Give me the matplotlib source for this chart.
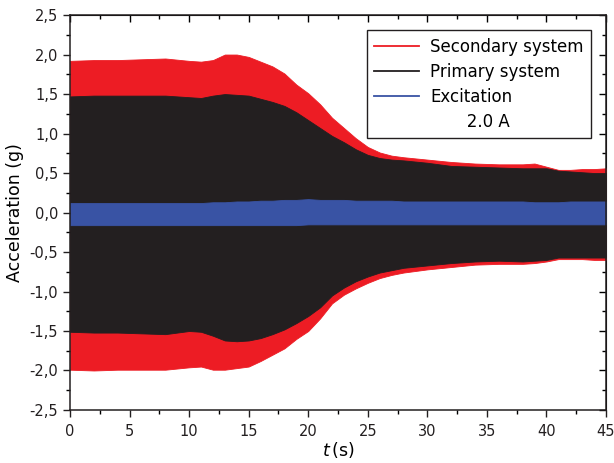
import numpy as np
import matplotlib
matplotlib.use('Agg')
import matplotlib.pyplot as plt
from matplotlib.lines import Line2D
from matplotlib.ticker import MultipleLocator, FuncFormatter

# envelope of the acceleration signals
t = [0, 2, 4, 6, 8, 10, 11, 12, 13, 14, 15, 16, 17, 18, 19, 20, 21, 22, 23, 24,
     25, 26, 27, 28, 30, 32, 34, 36, 38, 39, 40, 41, 42, 43, 44, 45]

sec_hi = [1.92, 1.93, 1.93, 1.94, 1.95, 1.92, 1.91, 1.93, 2.00, 2.00, 1.97, 1.91, 1.85, 1.76, 1.62, 1.51, 1.37, 1.20, 1.07, 0.94,
          0.83, 0.76, 0.72, 0.70, 0.67, 0.64, 0.62, 0.61, 0.61, 0.62, 0.58, 0.54, 0.54, 0.55, 0.55, 0.56]
sec_lo = [-1.99, -2.00, -1.99, -1.99, -1.99, -1.96, -1.95, -1.99, -1.99, -1.97, -1.95, -1.88, -1.80, -1.72, -1.60, -1.50, -1.34, -1.15, -1.04, -0.96,
          -0.89, -0.83, -0.79, -0.76, -0.72, -0.69, -0.66, -0.65, -0.65, -0.64, -0.62, -0.59, -0.59, -0.59, -0.60, -0.60]

pri_hi = [1.47, 1.48, 1.48, 1.48, 1.48, 1.46, 1.45, 1.48, 1.50, 1.49, 1.48, 1.44, 1.40, 1.35, 1.27, 1.17, 1.07, 0.97, 0.89, 0.80,
          0.73, 0.69, 0.67, 0.66, 0.63, 0.59, 0.58, 0.57, 0.56, 0.56, 0.56, 0.53, 0.52, 0.51, 0.50, 0.50]
pri_lo = [-1.51, -1.52, -1.52, -1.53, -1.54, -1.50, -1.51, -1.56, -1.62, -1.63, -1.62, -1.59, -1.54, -1.48, -1.40, -1.31, -1.20, -1.05, -0.95, -0.87,
          -0.81, -0.76, -0.73, -0.70, -0.67, -0.64, -0.62, -0.61, -0.62, -0.61, -0.60, -0.57, -0.57, -0.57, -0.57, -0.57]

exc_hi = [0.12, 0.12, 0.12, 0.12, 0.12, 0.12, 0.12, 0.13, 0.13, 0.14, 0.14, 0.15, 0.15, 0.16, 0.16, 0.17, 0.16, 0.16, 0.16, 0.15,
          0.15, 0.15, 0.15, 0.14, 0.14, 0.14, 0.14, 0.14, 0.14, 0.13, 0.13, 0.13, 0.14, 0.14, 0.14, 0.14]
exc_lo = [-0.16, -0.16, -0.16, -0.16, -0.16, -0.16, -0.16, -0.16, -0.16, -0.16, -0.16, -0.16, -0.16, -0.16, -0.16, -0.15, -0.15, -0.15, -0.15, -0.15,
          -0.15, -0.15, -0.15, -0.15, -0.15, -0.15, -0.15, -0.15, -0.15, -0.15, -0.15, -0.15, -0.15, -0.15, -0.15, -0.15]

labels = ['Secondary system', 'Primary system', 'Excitation', '       2.0 A']
red = '#ED1C24'
black = '#231F20'
blue = '#3953A4'

plt.rcParams['font.family'] = 'DejaVu Sans'

fig = plt.figure(figsize=(6.14, 4.63), dpi=100)
ax = fig.add_axes([0.114, 0.1145, 0.873, 0.853])

ax.fill_between(t, sec_lo, sec_hi, color=red, lw=0.6)
ax.fill_between(t, pri_lo, pri_hi, color=black, lw=0.6)
ax.fill_between(t, exc_lo, exc_hi, color=blue, lw=0.6)

ax.set_xlim(0, 45)
ax.set_ylim(-2.5, 2.5)
ax.xaxis.set_major_locator(MultipleLocator(5))
ax.xaxis.set_minor_locator(MultipleLocator(2.5))
ax.yaxis.set_major_locator(MultipleLocator(0.5))
ax.yaxis.set_minor_locator(MultipleLocator(0.25))
ax.yaxis.set_major_formatter(FuncFormatter(lambda v, p: ('%.1f' % v).replace('.', ',').replace('-0,0', '0,0')))
ax.tick_params(which='major', direction='out', length=5, width=1, labelsize=10.5, colors='#231F20')
ax.tick_params(axis='x', which='major', pad=5)
ax.tick_params(which='minor', direction='out', length=3, width=1)
for s in ax.spines.values():
    s.set_linewidth(1.1)
    s.set_color('#231F20')

top = ax.secondary_xaxis('top')
top.xaxis.set_major_locator(MultipleLocator(5))
top.xaxis.set_minor_locator(MultipleLocator(2.5))
top.tick_params(which='major', direction='in', length=5, width=1, labeltop=False)
top.tick_params(which='minor', direction='in', length=3, width=1)
right = ax.secondary_yaxis('right')
right.yaxis.set_major_locator(MultipleLocator(0.5))
right.yaxis.set_minor_locator(MultipleLocator(0.25))
right.tick_params(which='major', direction='in', length=5, width=1, labelright=False)
right.tick_params(which='minor', direction='in', length=3, width=1)

ax.set_xlabel(r'$\it{t}\,$(s)', fontsize=12.5, labelpad=1)
ax.set_ylabel('Acceleration (g)', fontsize=12.5, labelpad=4)

handles = [Line2D([], [], color=red, lw=1.3),
           Line2D([], [], color=black, lw=1.3),
           Line2D([], [], color=blue, lw=1.3),
           Line2D([], [], color='none')]
leg = ax.legend(handles, labels, loc='upper right', bbox_to_anchor=(0.972, 0.962), borderaxespad=0,
                fontsize=12, frameon=True, fancybox=False, edgecolor='#231F20', framealpha=1,
                handlelength=2.7, handletextpad=0.65, labelspacing=0.42, borderpad=0.45)
leg.get_frame().set_linewidth(1.0)

fig.savefig('out.png', dpi=100)
